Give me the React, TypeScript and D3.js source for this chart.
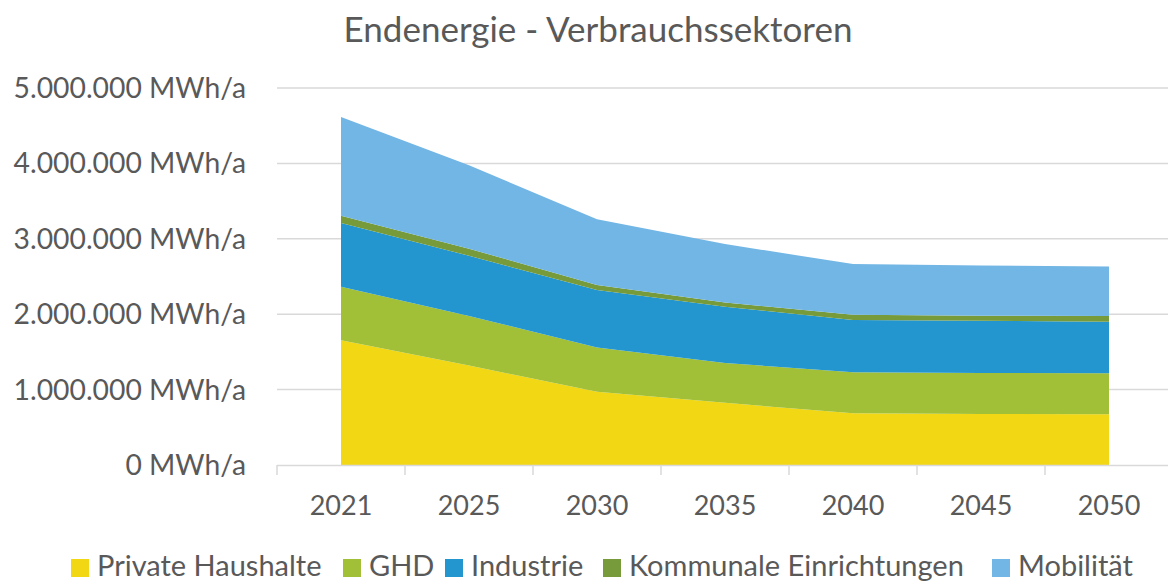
import React, { useEffect, useRef } from 'react';
import * as d3 from 'd3';

const years = ['2021', '2025', '2030', '2035', '2040', '2045', '2050'];
const sectors = ['Private Haushalte', 'GHD', 'Industrie', 'Kommunale Einrichtungen', 'Mobilität'];
const colors = ['#F2D714', '#A2C037', '#2396D0', '#779B3B', '#72B6E5'];

// MWh/a per sector and year
const privateHaushalte = [1653000, 1318000, 973000, 824000, 686000, 678000, 673000];
const ghd = [711000, 658000, 587000, 530000, 543000, 543000, 543000];
const industrie = [844000, 800000, 760000, 746000, 694000, 693000, 684000];
const kommunale = [97000, 93000, 66000, 56000, 70000, 66000, 76000];
const mobilitaet = [1311000, 1106000, 874000, 774000, 672000, 666000, 657000];

const yTicks = [0, 1000000, 2000000, 3000000, 4000000, 5000000];

const W = 1168;
const H = 583;
const textColor = '#595959';
const font = 'Lato, "Open Sans", sans-serif';

const de = d3.formatLocale({ decimal: ',', thousands: '.', grouping: [3], currency: ['', ' €'] });
const fmt = de.format(',.0f');

export default function App() {
  const svgRef = useRef<SVGSVGElement>(null);

  useEffect(() => {
    if (!svgRef.current) return;
    const svg = d3.select(svgRef.current);
    svg.selectAll('*').remove();

    const rows = years.map((y, i) => ({
      year: y,
      'Private Haushalte': privateHaushalte[i],
      GHD: ghd[i],
      Industrie: industrie[i],
      'Kommunale Einrichtungen': kommunale[i],
      'Mobilität': mobilitaet[i],
    }));

    const x = d3.scaleBand().domain(years).range([277, 277 + 128 * years.length]).padding(0);
    const y = d3.scaleLinear().domain([0, 5000000]).range([465, 88]);
    const cx = (d: string) => (x(d) as number) + x.bandwidth() / 2;

    // title
    svg.append('text')
      .attr('x', 598).attr('y', 42)
      .attr('text-anchor', 'middle')
      .attr('font-family', font).attr('font-size', 35)
      .attr('fill', textColor)
      .text('Endenergie - Verbrauchssektoren');

    // gridlines
    svg.append('g').selectAll('line').data(yTicks.filter(t => t > 0)).join('line')
      .attr('x1', 277).attr('x2', W)
      .attr('y1', d => y(d)).attr('y2', d => y(d))
      .attr('stroke', '#d9d9d9').attr('stroke-width', 1.5);

    // y labels
    svg.append('g').selectAll('text').data(yTicks).join('text')
      .attr('x', 246).attr('y', d => y(d))
      .attr('dy', '0.35em')
      .attr('text-anchor', 'end')
      .attr('font-family', font).attr('font-size', 28.3)
      .attr('fill', textColor)
      .text(d => `${fmt(d)} MWh/a`);

    // stacked areas
    const stack = d3.stack<any>().keys(sectors);
    const series = stack(rows);
    const area = d3.area<any>()
      .x(d => cx(d.data.year))
      .y0(d => y(d[0]))
      .y1(d => y(d[1]));

    svg.append('g').selectAll('path').data(series).join('path')
      .attr('d', d => area(d) as string)
      .attr('fill', (_, i) => colors[i]);

    // x axis
    svg.append('line')
      .attr('x1', 277).attr('x2', W)
      .attr('y1', 465.5).attr('y2', 465.5)
      .attr('stroke', '#d9d9d9').attr('stroke-width', 1.5);
    svg.append('g').selectAll('line').data(years).join('line')
      .attr('x1', d => x(d) as number).attr('x2', d => x(d) as number)
      .attr('y1', 465).attr('y2', 475)
      .attr('stroke', '#d9d9d9').attr('stroke-width', 1.5);
    svg.append('g').selectAll('text').data(years).join('text')
      .attr('x', d => cx(d)).attr('y', 506)
      .attr('dy', '0.35em')
      .attr('text-anchor', 'middle')
      .attr('font-family', font).attr('font-size', 27)
      .attr('fill', textColor)
      .text(d => d);

    // legend
    const legendX = [71, 343, 445, 603, 992];
    const lg = svg.append('g').selectAll('g').data(sectors).join('g')
      .attr('transform', (_, i) => `translate(${legendX[i]},567)`);
    lg.append('rect')
      .attr('x', 0).attr('y', -8).attr('width', 18).attr('height', 18)
      .attr('fill', (_, i) => colors[i]);
    lg.append('text')
      .attr('x', 26).attr('y', 0).attr('dy', '0.3em')
      .attr('font-family', font).attr('font-size', 29)
      .attr('fill', textColor)
      .text(d => d);
  }, []);

  return (
    <svg ref={svgRef} width={W} height={H}
      style={{ position: 'absolute', left: 0, top: 0, background: '#fff' }} />
  );
}
